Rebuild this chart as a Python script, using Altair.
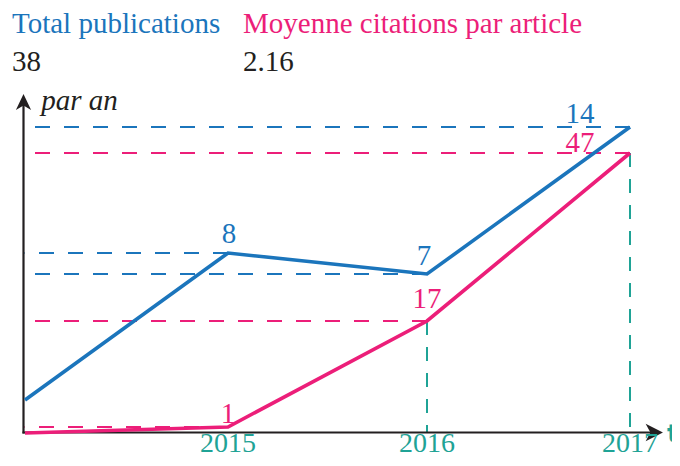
import altair as alt
import pandas as pd

# ---- data ----
years = [2014, 2015, 2016, 2017]
publications = [1, 8, 7, 14]
citations = [0, 1, 17, 47]
tick_years = [2015, 2016, 2017]
tick_labels = ["2015", "2016", "2017"]
header_titles = ["Total publications", "Moyenne citations par article"]
header_values = ["38", "2.16"]
y_axis_label = "par an"
x_axis_label = "t"

BLUE = "#1b75bc"
PINK = "#ec1e79"
TEAL = "#1fa396"
INK = "#231f20"
FONT = "Liberation Serif, Times New Roman, serif"
FS = 29

df = pd.DataFrame({"year": years, "pub": publications, "cit": citations})
ticks = pd.DataFrame({"year": tick_years, "label": tick_labels})
one = pd.DataFrame({"k": [0]})

# plot-area pixels (page = view + 8)
AXIS_X = 15.5
AXIS_Y = 424.5

x_scale = alt.Scale(domain=[2014, 2015, 2016, 2017], range=[17, 220, 419, 622])
pub_scale = alt.Scale(domain=[0, 14], range=[413, 119])
cit_scale = alt.Scale(domain=[0, 1, 17, 47], range=[425, 419, 313, 145])
col_scale = alt.Scale(domain=[0, 1], range=[4, 235])
row_scale = alt.Scale(domain=[0, 1], range=[25, 63])

X = alt.X("year:Q", scale=x_scale, axis=None)
Y_PUB = alt.Y("pub:Q", scale=pub_scale, axis=None)
Y_CIT = alt.Y("cit:Q", scale=cit_scale, axis=None)

# hand-drawn style axes with arrow heads
y_axis = alt.Chart(one).mark_rule(color=INK, strokeWidth=2.2).encode(
    x=alt.value(AXIS_X), y=alt.value(96), y2=alt.value(AXIS_Y + 1)
)
x_axis = alt.Chart(one).mark_rule(color=INK, strokeWidth=2.2).encode(
    x=alt.value(AXIS_X - 1), x2=alt.value(648), y=alt.value(AXIS_Y)
)
up_arrow = alt.Chart(one).mark_point(
    shape="M0,-1L0.95,1L0,0.45L-0.95,1Z", size=256, filled=True,
    color=INK, opacity=1, strokeWidth=0
).encode(x=alt.value(AXIS_X), y=alt.value(94))
right_arrow = alt.Chart(one).mark_point(
    shape="M1,0L-1,-1L-0.45,0L-1,1Z", size=300, filled=True,
    color=INK, opacity=1, strokeWidth=0
).encode(x=alt.value(646.3), y=alt.value(AXIS_Y))

# dashed guides from each point back to the axes
pub_guides = alt.Chart(df).transform_filter(alt.datum.year >= 2015).mark_rule(
    color=BLUE, strokeWidth=2, strokeDash=[15, 14]
).encode(x=X, x2=alt.value(AXIS_X + 1), y=Y_PUB)
cit_guides = alt.Chart(df).transform_filter(alt.datum.year >= 2015).mark_rule(
    color=PINK, strokeWidth=2, strokeDash=[15, 14]
).encode(x=X, x2=alt.value(AXIS_X + 1), y=Y_CIT)
v_guides = alt.Chart(df).transform_filter(alt.datum.year >= 2016).mark_rule(
    color=TEAL, strokeWidth=2, strokeDash=[14, 12]
).encode(x=X, y=Y_CIT, y2=alt.value(AXIS_Y))

# data lines
pub_line = alt.Chart(df).mark_line(color=BLUE, strokeWidth=3.6).encode(x=X, y=Y_PUB)
cit_line = alt.Chart(df).mark_line(color=PINK, strokeWidth=3.6).encode(x=X, y=Y_CIT)


def value_label(field, yscale, year, color, dx, dy):
    return alt.Chart(df).transform_filter(alt.datum.year == year).mark_text(
        font=FONT, fontSize=FS, color=color, align="center",
        baseline="alphabetic", dx=dx, dy=dy
    ).encode(
        x=X,
        y=alt.Y(f"{field}:Q", scale=yscale, axis=None),
        text=alt.Text(f"{field}:Q", format="d"),
    )


labels = [
    value_label("pub", pub_scale, 2015, BLUE, 1, -10),
    value_label("pub", pub_scale, 2016, BLUE, -3, -9),
    value_label("pub", pub_scale, 2017, BLUE, -50, -4),
    value_label("cit", cit_scale, 2015, PINK, 0, -4),
    value_label("cit", cit_scale, 2016, PINK, 0, -13),
    value_label("cit", cit_scale, 2017, PINK, -50, -1),
]

tick_text = alt.Chart(ticks).mark_text(
    font=FONT, fontSize=28, color=TEAL, align="center", baseline="alphabetic"
).encode(x=X, y=alt.value(444), text="label:N")

# header block: two columns, title row and value row
head_df = pd.DataFrame({
    "label": header_titles + header_values,
    "col": [0, 1, 0, 1],
    "row": [0, 0, 1, 1],
})


def header(col, row, color):
    return alt.Chart(head_df).transform_filter(
        (alt.datum.col == col) & (alt.datum.row == row)
    ).mark_text(
        font=FONT, fontSize=FS, color=color, align="left", baseline="alphabetic"
    ).encode(
        x=alt.X("col:Q", scale=col_scale, axis=None),
        y=alt.Y("row:Q", scale=row_scale, axis=None),
        text="label:N",
    )


headers = [
    header(0, 0, BLUE),
    header(1, 0, PINK),
    header(0, 1, INK),
    header(1, 1, INK),
]

axis_names = pd.DataFrame({"label": [y_axis_label], "year": [2014.08]})
par_an = alt.Chart(axis_names).mark_text(
    font=FONT, fontSize=FS, fontStyle="italic", color=INK, align="left",
    baseline="alphabetic"
).encode(x=X, y=alt.value(102), text="label:N")

t_label = alt.Chart(pd.DataFrame({"label": [x_axis_label]})).mark_text(
    font="DejaVu Sans", fontSize=25, fontWeight="bold", color=TEAL,
    align="left", baseline="alphabetic"
).encode(x=alt.value(659), y=alt.value(434), text="label:N")

chart = alt.layer(
    pub_guides, cit_guides, v_guides,
    y_axis, x_axis, up_arrow, right_arrow,
    pub_line, cit_line,
    *labels, tick_text, *headers, par_an, t_label
).resolve_scale(x="independent", y="independent").properties(
    width=664, height=450,
    autosize=alt.AutoSizeParams(type="none"),
    padding=0,
    background="white",
).configure_view(stroke=None)

chart.save("out.html", embed_options={"renderer": "svg", "actions": False})
